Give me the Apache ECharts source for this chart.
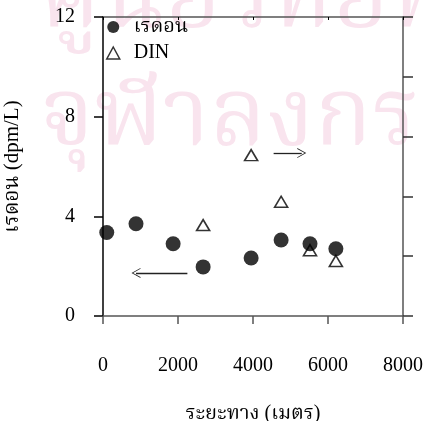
<!DOCTYPE html>
<html>
<head>
<meta charset="utf-8">
<script src="https://cdn.jsdelivr.net/npm/echarts@6/dist/echarts.min.js"></script>
<style>html,body{margin:0;padding:0;background:#fff}#c{width:425px;height:421px}</style>
</head>
<body>
<div id="c"></div>
<script>
// Data
const radonDistance = [100, 880, 1870, 2670, 3950, 4750, 5520, 6210];
const radonValues   = [3.35, 3.7, 2.9, 1.97, 2.33, 3.05, 2.9, 2.7];
const dinDistance   = [2670, 3950, 4750, 5520, 6210];
const dinValues     = [1.52, 2.69, 1.91, 1.1, 0.92]; // on right axis (0-5)
const xTicks = [0, 2000, 4000, 6000, 8000];
const yTicks = [0, 4, 8, 12];
const arrowRight = [[4550, 6.54], [5300, 6.54]];
const arrowLeft  = [[2250, 1.73], [880, 1.73]];

const serif = '"Liberation Serif", "Times New Roman", serif';
const thaiFont = '"Liberation Serif", "Noto Serif Thai", "Norasi", "Noto Sans Thai", "Garuda", "Loma", serif';
const axisCol = '#555';

const chart = echarts.init(document.getElementById('c'), null, {renderer: 'canvas'});
const chevron = 'path://M0,0 L6,10 L5,10 L0,1.8 L-5,10 L-6,10 Z';

chart.setOption({
  animation: false,
  backgroundColor: '#fff',
  graphic: [
    {type: 'text', left: 40, top: -46, z: -10, silent: true,
     style: {text: 'ศูนย์วิทยทรัพยากร', font: '95px ' + thaiFont, fill: '#f9e4ee'}},
    {type: 'text', left: 40, top: 72, z: -10, silent: true,
     style: {text: 'จุฬาลงกรณ์มหาวิทยาลัย', font: '95px ' + thaiFont, fill: '#f9e4ee'}}
  ],
  grid: {left: 103, top: 17, width: 300, height: 299, containLabel: false, outerBoundsMode: 'none'},
  legend: {
    left: 101, top: 12, orient: 'vertical', itemGap: 6, itemWidth: 13, itemHeight: 12,
    textStyle: {fontFamily: thaiFont, fontSize: 20, color: '#000', padding: [0, 0, 0, 9]},
    data: [
      {name: 'เรดอน', icon: 'circle', itemStyle: {color: '#000'}},
      {name: 'DIN', icon: 'triangle', itemStyle: {color: '#fff', borderColor: '#000', borderWidth: 1.5}}
    ]
  },
  xAxis: [
    {type: 'value', min: 0, max: 8000, interval: 2000, position: 'bottom',
     name: 'ระยะทาง (เมตร)', nameLocation: 'middle', nameGap: 88,
     nameTextStyle: {fontFamily: thaiFont, fontSize: 20, color: '#000'},
     axisLine: {show: true, onZero: false, lineStyle: {color: axisCol, width: 1.5}},
     axisTick: {show: true, inside: false, length: 8, lineStyle: {color: axisCol, width: 1.5}},
     axisLabel: {margin: 40, fontFamily: serif, fontSize: 20, color: '#000',
       formatter: v => xTicks.includes(v) ? String(v) : ''},
     splitLine: {show: false}},
    {type: 'value', min: 0, max: 8000, interval: 2000, position: 'top',
     axisLine: {show: true, onZero: false, lineStyle: {color: axisCol, width: 1.5}},
     axisTick: {show: true, inside: true, length: 3, lineStyle: {color: '#000', width: 1}},
     axisLabel: {show: false}, splitLine: {show: false}}
  ],
  yAxis: [
    {type: 'value', min: 0, max: 12, interval: 4, position: 'left',
     name: 'เรดอน (dpm/L)', nameLocation: 'middle', nameGap: 80, nameRotate: 90,
     nameTextStyle: {fontFamily: thaiFont, fontSize: 21, color: '#000'},
     axisLine: {show: true, onZero: false, lineStyle: {color: '#000', width: 1.5}},
     axisTick: {show: true, inside: false, length: 9, lineStyle: {color: '#000', width: 1.5}},
     axisLabel: {margin: 28, fontFamily: serif, fontSize: 20, color: '#000',
       formatter: v => yTicks.includes(v) ? String(v) : ''},
     splitLine: {show: false}},
    {type: 'value', min: 0, max: 5, interval: 1, position: 'right',
     axisLine: {show: true, onZero: false, lineStyle: {color: axisCol, width: 1.5}},
     axisTick: {show: true, inside: false, length: 10, lineStyle: {color: '#333', width: 1.5}},
     axisLabel: {show: false}, splitLine: {show: false}}
  ],
  series: [
    {name: 'เรดอน', type: 'scatter', xAxisIndex: 0, yAxisIndex: 0,
     symbol: 'circle', symbolSize: 15, itemStyle: {color: '#000'}, z: 3,
     data: radonDistance.map((x, i) => [x, radonValues[i]]),
     markLine: {
       silent: true, symbol: ['none', chevron], symbolSize: [10, 9], label: {show: false},
       lineStyle: {color: '#222', width: 1.3, type: 'solid'},
       data: [
         [{coord: arrowRight[0]}, {coord: arrowRight[1]}],
         [{coord: arrowLeft[0]}, {coord: arrowLeft[1]}]
       ]
     }},
    {name: 'DIN', type: 'scatter', xAxisIndex: 0, yAxisIndex: 1,
     symbol: 'triangle', symbolSize: [13, 11], z: 4,
     itemStyle: {color: 'rgba(255,255,255,0)', borderColor: '#000', borderWidth: 1.6},
     data: dinDistance.map((x, i) => [x, dinValues[i]])}
  ]
});
</script>
</body>
</html>
